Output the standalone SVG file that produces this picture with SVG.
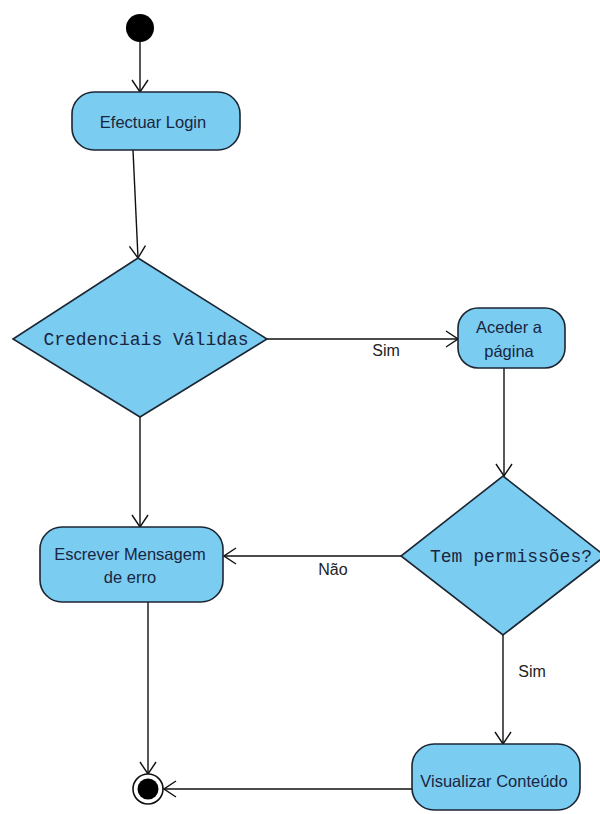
<svg xmlns="http://www.w3.org/2000/svg" width="600" height="814" viewBox="0 0 600 814">
<defs>
<style>
.node{fill:#7accf0;stroke:#1c2633;stroke-width:1.6}
.lbl{font-family:"Liberation Sans",Arial,sans-serif;font-size:16.5px;fill:#1a2540;text-anchor:middle}
.mono{font-family:"Liberation Mono","Courier New",monospace;font-size:18px;fill:#1a2540;text-anchor:middle}
.edge{fill:none;stroke:#111;stroke-width:1.4}
.elbl{font-family:"Liberation Sans",Arial,sans-serif;font-size:16px;fill:#222;text-anchor:middle}
</style>
<marker id="arr" viewBox="0 0 14 18" refX="13" refY="9" markerWidth="14" markerHeight="18" markerUnits="userSpaceOnUse" orient="auto">
<path d="M1,1 L13,9 L1,17" fill="none" stroke="#111" stroke-width="1.4"/>
</marker>
</defs>
<rect width="600" height="814" fill="#fff"/>
<g id="connectors">
<line class="edge" x1="140" y1="42" x2="140" y2="92" marker-end="url(#arr)"/>
<line class="edge" x1="133" y1="150" x2="138" y2="258" marker-end="url(#arr)"/>
<line class="edge" x1="267" y1="339" x2="458" y2="339" marker-end="url(#arr)"/>
<text class="elbl" x="386" y="356">Sim</text>
<line class="edge" x1="140" y1="417" x2="140" y2="527" marker-end="url(#arr)"/>
<line class="edge" x1="504" y1="368" x2="504" y2="476" marker-end="url(#arr)"/>
<line class="edge" x1="401" y1="556" x2="224" y2="556" marker-end="url(#arr)"/>
<text class="elbl" x="333" y="575">Não</text>
<line class="edge" x1="503" y1="635" x2="503" y2="744" marker-end="url(#arr)"/>
<text class="elbl" x="532" y="677">Sim</text>
<line class="edge" x1="148" y1="602" x2="148" y2="774" marker-end="url(#arr)"/>
<line class="edge" x1="412" y1="789" x2="164" y2="789" marker-end="url(#arr)"/>
</g>
<g id="start"><circle cx="140" cy="28" r="14" fill="#000"/></g>
<g id="efectuar-login">
<rect class="node" x="72" y="92" width="168" height="58" rx="22"/>
<text class="lbl" x="153" y="128">Efectuar Login</text>
</g>
<g id="credenciais-validas">
<polygon class="node" points="138,258 267,339 140,417 13,339"/>
<text class="mono" x="146" y="345">Credenciais Válidas</text>
</g>
<g id="aceder-pagina">
<rect class="node" x="458" y="308" width="107" height="60" rx="20"/>
<text class="lbl" x="509" y="333">Aceder a</text>
<text class="lbl" x="509" y="357">página</text>
</g>
<g id="tem-permissoes">
<polygon class="node" points="503,476 605,556 503,635 401,556"/>
<text class="mono" x="511" y="562">Tem permissões?</text>
</g>
<g id="escrever-mensagem">
<rect class="node" x="40" y="527" width="183" height="75" rx="22"/>
<text class="lbl" x="130" y="560">Escrever Mensagem</text>
<text class="lbl" x="130" y="583">de erro</text>
</g>
<g id="visualizar-conteudo">
<rect class="node" x="412" y="744" width="168" height="66" rx="22"/>
<text class="lbl" x="494" y="787">Visualizar Conteúdo</text>
</g>
<g id="end">
<circle cx="148" cy="789" r="15" fill="#fff" stroke="#111" stroke-width="1.6"/>
<circle cx="148" cy="789" r="10.5" fill="#000"/>
</g>
</svg>
